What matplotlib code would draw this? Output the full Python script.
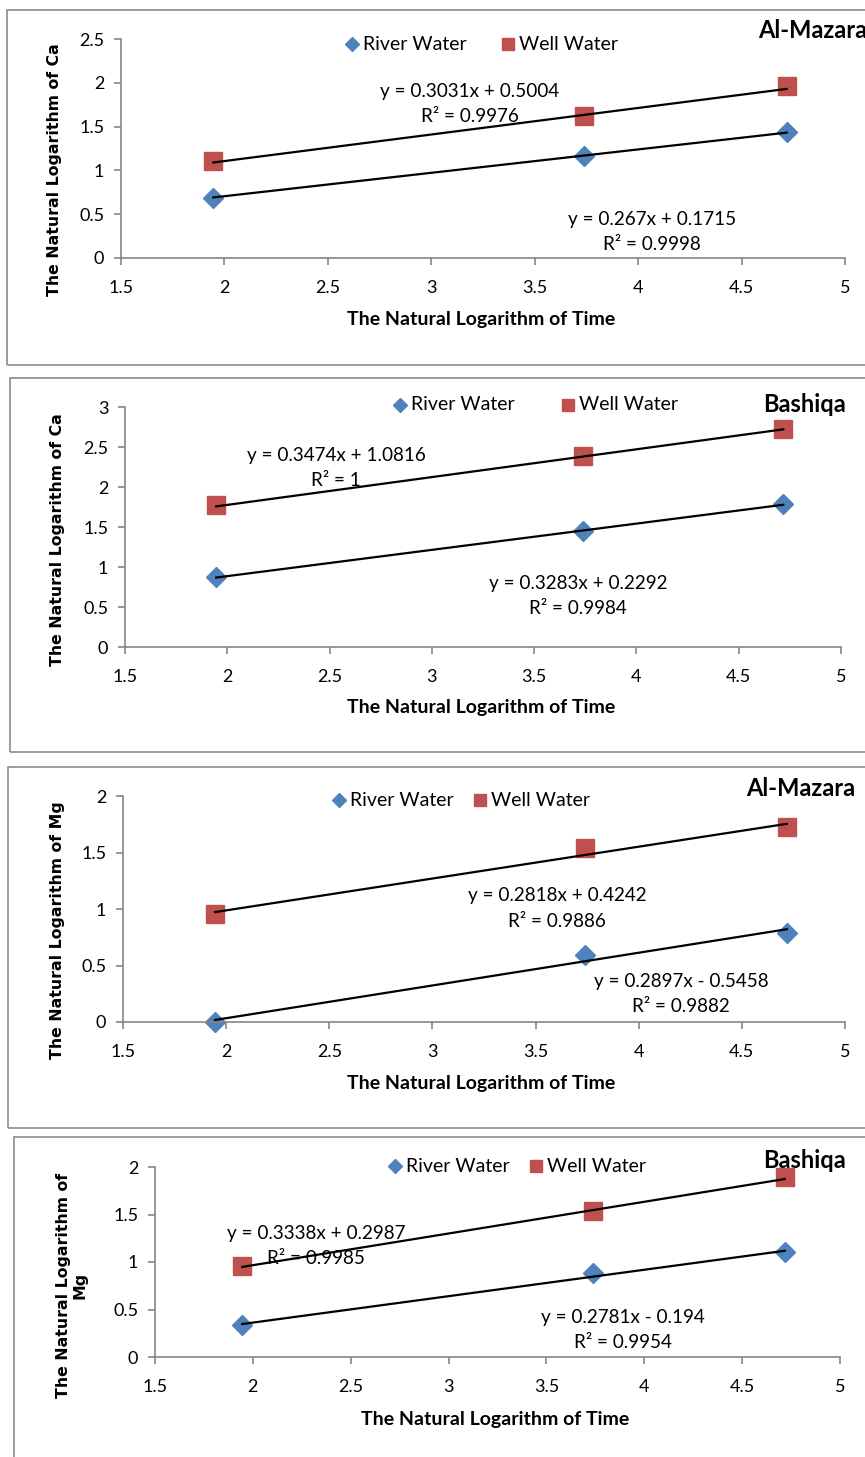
import matplotlib
matplotlib.use("Agg")
import matplotlib.pyplot as plt
from matplotlib.patches import Rectangle
from matplotlib.lines import Line2D
import numpy as np

W, H = 865, 1457

# ---------------- data ----------------
ln_time = [1.946, 3.738, 4.718]

ca_mazara_river = [0.69, 1.16, 1.44]
ca_mazara_well = [1.11, 1.62, 1.96]
ca_bashiqa_river = [0.88, 1.45, 1.79]
ca_bashiqa_well = [1.77, 2.39, 2.73]
mg_mazara_river = [0.00, 0.59, 0.79]
mg_mazara_well = [0.96, 1.54, 1.73]
mg_bashiqa_river = [0.34, 0.88, 1.11]
mg_bashiqa_well = [0.96, 1.54, 1.89]

# trendline coefficients (slope, intercept, R2) as printed on the chart
fit_ca_mazara_river = (0.267, 0.1715, "0.9998")
fit_ca_mazara_well = (0.3031, 0.5004, "0.9976")
fit_ca_bashiqa_river = (0.3283, 0.2292, "0.9984")
fit_ca_bashiqa_well = (0.3474, 1.0816, "1")
fit_mg_mazara_river = (0.2897, -0.5458, "0.9882")
fit_mg_mazara_well = (0.2818, 0.4242, "0.9886")
fit_mg_bashiqa_river = (0.2781, -0.194, "0.9954")
fit_mg_bashiqa_well = (0.3338, 0.2987, "0.9985")

x_ticks = [1.5, 2, 2.5, 3, 3.5, 4, 4.5, 5]
x_tick_labels = ["1.5", "2", "2.5", "3", "3.5", "4", "4.5", "5"]

BLUE = "#4F81BD"
RED = "#C0504D"
FONT = ["Lato", "DejaVu Sans"]

fig = plt.figure(figsize=(W / 100, H / 100), dpi=100)


def fx(x):
    return x / W


def fy(y):
    return 1 - y / H


def eq_text(slope, intercept):
    sign = "+" if intercept >= 0 else "-"
    return f"y = {slope}x {sign} {abs(intercept)}"


panels = [
    dict(box=(7, 10, 900, 365), ax=(121, 845, 39, 258), ylim=2.5,
         yticks=[0, 0.5, 1, 1.5, 2, 2.5], ylabels=["0", "0.5", "1", "1.5", "2", "2.5"],
         river=ca_mazara_river, well=ca_mazara_well,
         friver=fit_ca_mazara_river, fwell=fit_ca_mazara_well,
         ylabel="The Natural Logarithm of Ca", ylab_pos=(55, 170),
         xlab=(481, 320), title="Al-Mazara", title_pos=(758, 30),
         leg=(352, 44, 508), weq=(470, 92), req=(652, 220)),
    dict(box=(10, 378, 900, 752), ax=(125, 841, 407, 647), ylim=3,
         yticks=[0, 0.5, 1, 1.5, 2, 2.5, 3], ylabels=["0", "0.5", "1", "1.5", "2", "2.5", "3"],
         river=ca_bashiqa_river, well=ca_bashiqa_well,
         friver=fit_ca_bashiqa_river, fwell=fit_ca_bashiqa_well,
         ylabel="The Natural Logarithm of Ca", ylab_pos=(58, 540),
         xlab=(481, 708), title="Bashiqa", title_pos=(763, 405),
         leg=(400, 405, 568), weq=(336, 455), req=(578, 584)),
    dict(box=(8, 767, 900, 1128), ax=(123, 845, 796, 1022), ylim=2,
         yticks=[0, 0.5, 1, 1.5, 2], ylabels=["0", "0.5", "1", "1.5", "2"],
         river=mg_mazara_river, well=mg_mazara_well,
         friver=fit_mg_mazara_river, fwell=fit_mg_mazara_well,
         ylabel="The Natural Logarithm of Mg", ylab_pos=(58, 930),
         xlab=(481, 1084), title="Al-Mazara", title_pos=(746, 788),
         leg=(339, 800, 480), weq=(557, 896), req=(681, 982)),
    dict(box=(14, 1137, 900, 1500), ax=(155, 840, 1167, 1357), ylim=2,
         yticks=[0, 0.5, 1, 1.5, 2], ylabels=["0", "0.5", "1", "1.5", "2"],
         river=mg_bashiqa_river, well=mg_bashiqa_well,
         friver=fit_mg_bashiqa_river, fwell=fit_mg_bashiqa_well,
         ylabel="The Natural Logarithm of\nMg", ylab_pos=(72, 1285),
         xlab=(495, 1419), title="Bashiqa", title_pos=(763, 1160),
         leg=(395, 1166, 536), weq=(316, 1233), req=(623, 1318)),
]

for p in panels:
    bx0, by0, bx1, by1 = p["box"]
    fig.patches.append(Rectangle((fx(bx0), fy(by1)), fx(bx1 - bx0), (by1 - by0) / H,
                                 transform=fig.transFigure, fill=False,
                                 edgecolor="#8C8C8C", linewidth=1.2, zorder=0))
    l, r, t, b = p["ax"]
    ax = fig.add_axes([fx(l), fy(b), fx(r - l), (b - t) / H])
    ax.set_facecolor("none")
    ax.set_xlim(1.5, 5)
    ax.set_ylim(0, p["ylim"])
    ax.set_xticks(x_ticks)
    ax.set_xticklabels(x_tick_labels)
    ax.set_yticks(p["yticks"])
    ax.set_yticklabels(p["ylabels"])
    for s in ["top", "right"]:
        ax.spines[s].set_visible(False)
    for s in ["left", "bottom"]:
        ax.spines[s].set_color("#868686")
        ax.spines[s].set_linewidth(1.2)
    ax.tick_params(direction="out", length=5, width=1.2, color="#868686",
                   labelsize=13, pad=7)
    for lab in ax.get_xticklabels() + ax.get_yticklabels():
        lab.set_family(FONT)
    ax.tick_params(axis="x", pad=11)

    xs = np.array(ln_time)
    # trendlines
    for slope, icpt, _ in (p["fwell"], p["friver"]):
        ax.plot(xs[[0, -1]], slope * xs[[0, -1]] + icpt, color="black", lw=1.6, zorder=3)
    ax.plot(xs, p["river"], linestyle="none", marker="D", markersize=10.5,
            color=BLUE, zorder=2, clip_on=False)
    ax.plot(xs, p["well"], linestyle="none", marker="s", markersize=13,
            color=RED, zorder=2, clip_on=False)

    # axis labels
    fig.text(fx(p["xlab"][0]), fy(p["xlab"][1]), "The Natural Logarithm of Time",
             ha="center", va="center", fontsize=14, fontweight="bold", family=FONT)
    fig.text(fx(p["ylab_pos"][0]), fy(p["ylab_pos"][1]), p["ylabel"], rotation=90,
             ha="center", va="center", fontsize=11.3, fontweight="bold",
             family=["DejaVu Sans"], linespacing=1.1, multialignment="center")
    # title
    fig.text(fx(p["title_pos"][0]), fy(p["title_pos"][1]), p["title"], ha="left",
             va="center", fontsize=17, fontweight="bold", family=FONT)
    # legend
    dx, ly, sx = p["leg"]
    fig.add_artist(Line2D([fx(dx)], [fy(ly)], marker="D", markersize=7, color=BLUE,
                          linestyle="none", transform=fig.transFigure))
    fig.text(fx(dx + 11), fy(ly), "River Water", ha="left", va="center",
             fontsize=14, family=FONT)
    fig.add_artist(Line2D([fx(sx)], [fy(ly)], marker="s", markersize=8.5, color=RED,
                          linestyle="none", transform=fig.transFigure))
    fig.text(fx(sx + 11), fy(ly), "Well Water", ha="left", va="center",
             fontsize=14, family=FONT)
    # equations
    for (slope, icpt, r2), (cx, cy) in ((p["fwell"], p["weq"]), (p["friver"], p["req"])):
        fig.text(fx(cx), fy(cy), eq_text(slope, icpt), ha="center", va="center",
                 fontsize=13.6, family=FONT)
        fig.text(fx(cx), fy(cy + 25), f"R² = {r2}", ha="center", va="center",
                 fontsize=13.6, family=FONT)

fig.savefig("out.png", dpi=100)
